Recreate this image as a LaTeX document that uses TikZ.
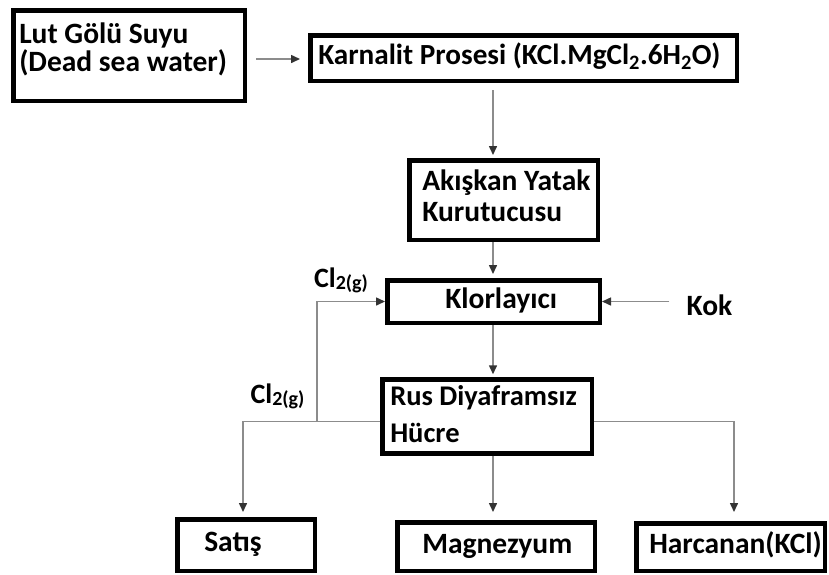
\documentclass[tikz,border=0pt]{standalone}
\usepackage{fontspec}
\setmainfont{Carlito}
\usetikzlibrary{arrows.meta}
% left-aligned text block of a given width, indented by a given pad
\newcommand\boxtext[3]{\makebox[#1][l]{\hspace*{#2}\begin{tabular}{@{}l@{}}#3\end{tabular}}}
\begin{document}
\begin{tikzpicture}[x=1pt,y=-1pt,
  box/.style={draw=black, line width=4.5pt, inner sep=0pt,
    font=\bfseries\fontsize{29.5}{34}\selectfont},
  flow/.style={draw=black!45, line width=1.5pt,
    -{Triangle[length=9pt,width=8pt,color=black!80]}},
  lbl/.style={font=\bfseries\fontsize{29.5}{34}\selectfont, inner sep=0pt},
  gas/.style={font=\bfseries\fontsize{28}{34}\selectfont, inner sep=0pt}]
\useasboundingbox (0,0) rectangle (829,574);

% process boxes
\node[box, minimum height=90.5pt, font=\bfseries\fontsize{29.5}{27}\selectfont]
  (lut) at (129,55.5) {\boxtext{231.5pt}{6pt}{Lut Gölü Suyu\\[-2pt](Dead sea water)\rule[-17pt]{0pt}{0pt}}};
\node[box, minimum height=45.5pt, font=\bfseries\fontsize{29.2}{34}\selectfont]
  (karn) at (523.5,58) {\boxtext{426.5pt}{8pt}{Karnalit Prosesi (KCl.MgCl\textsubscript{2}.6H\textsubscript{2}O)}};
\node[box, minimum height=79.5pt, font=\bfseries\fontsize{29.5}{31}\selectfont]
  (akis) at (503.5,200) {\boxtext{188.5pt}{13pt}{Akışkan Yatak\\Kurutucusu}};
\node[box, minimum height=42.5pt]
  (klor) at (493.5,301.5) {\boxtext{212.5pt}{58pt}{Klorlayıcı}};
\node[box, minimum height=72.5pt, font=\bfseries\fontsize{28.5}{37}\selectfont]
  (rus) at (487,416.5) {\boxtext{209.5pt}{8pt}{Rus Diyaframsız\\Hücre}};
\node[box, minimum height=51.5pt]
  (satis) at (246,545) {\boxtext{137.5pt}{27pt}{Satış}};
\node[box, minimum height=48.5pt]
  (magn) at (496,546.5) {\boxtext{197.5pt}{25pt}{Magnezyum}};
\node[box, minimum height=47.5pt]
  (harc) at (730.5,547) {\boxtext{188.5pt}{13pt}{Harcanan(KCl)}};

% free labels
\node[lbl] (kok) at (709.5,305) {Kok};
\node[gas] (clup) at (341,280) {Cl{\fontsize{20}{24}\selectfont\raisebox{-2pt}{2(g)}}};
\node[gas] (cllo) at (277.5,396) {Cl{\fontsize{20}{24}\selectfont\raisebox{-2pt}{2(g)}}};

% routing points
\coordinate (a1) at (256,59);
\coordinate (mid) at (493,0);
\coordinate (jl) at (317,421.5);
\coordinate (sx) at (243,421.5);
\coordinate (rx) at (734,421.5);

% connectors
\draw[flow, shorten >=8pt] (a1) -- (karn.west |- a1);
\draw[flow, shorten <=7pt, shorten >=3pt] (karn.south -| mid) -- (akis.north -| mid);
\draw[flow, shorten >=4pt] (akis.south -| mid) -- (klor.north -| mid);
\draw[flow, shorten >=3pt] (klor.south -| mid) -- (rus.north -| mid);
\draw[flow, shorten >=8pt] (rus.south -| mid) -- (magn.north -| mid);
\draw[flow, shorten <=17pt] (kok.west |- klor.east) -- (klor.east);
\draw[flow, shorten >=5pt] (rus.west |- jl) -- (sx) -- (satis.north -| sx);
\draw[flow] (jl) -- (jl |- klor.west) -- (klor.west);
\draw[flow, shorten >=9pt] (rus.east |- rx) -- (rx) -- (harc.north -| rx);
\end{tikzpicture}
\end{document}
